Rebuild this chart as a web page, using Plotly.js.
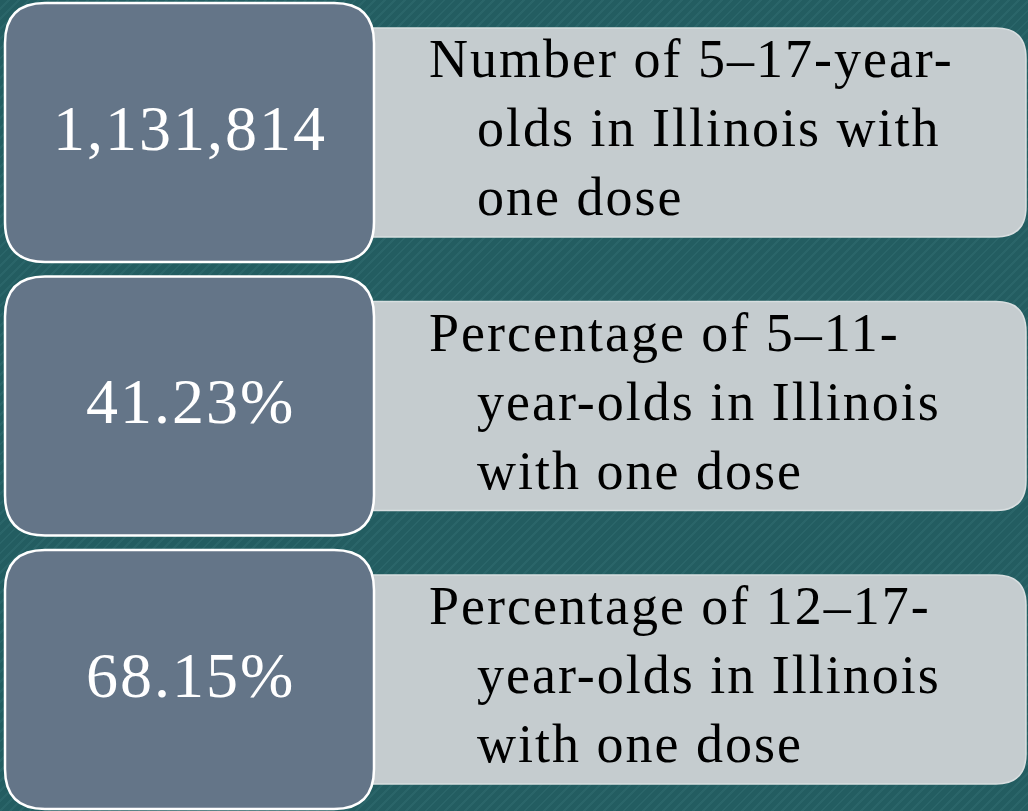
<!DOCTYPE html>
<html>
<head>
<meta charset="utf-8">
<script src="https://cdn.plot.ly/plotly-3.0.1.min.js"></script>
<style>
  html, body { margin: 0; padding: 0; }
  body {
    width: 1028px; height: 811px; overflow: hidden;
    background: repeating-linear-gradient(-45deg, #235d61 0px, #235d61 5px, #2a6569 5px, #2a6569 7px);
  }
  #chart { width: 1028px; height: 811px; }
  .annotation-text { letter-spacing: 2px; }
</style>
</head>
<body>
<div id="chart"></div>
<script>
// ---- data ----
const values = ["1,131,814", "41.23%", "68.15%"];
const labelFirstLines = ["Number of 5\u201317-year-", "Percentage of 5\u201311-", "Percentage of 12\u201317-"];
const labelSecondLines = ["olds in Illinois with", "year-olds in Illinois", "year-olds in Illinois"];
const labelThirdLines = ["one dose", "with one dose", "with one dose"];

// ---- layout helpers ----
const W = 1028, H = 811;
const step = 273.5;

function roundRect(x0, y0, x1, y1, rl, rr) {
  return `M ${x0 + rl},${y0} L ${x1 - rr},${y0} Q ${x1},${y0} ${x1},${y0 + rr} ` +
         `L ${x1},${y1 - rr} Q ${x1},${y1} ${x1 - rr},${y1} L ${x0 + rl},${y1} ` +
         `Q ${x0},${y1} ${x0},${y1 - rl} L ${x0},${y0 + rl} Q ${x0},${y0} ${x0 + rl},${y0} Z`;
}

const shapes = [];
const annotations = [];
const serif = "Liberation Serif, Times New Roman, serif";

values.forEach((v, i) => {
  const off = i * step;
  // light label box (behind)
  shapes.push({
    type: "path", xref: "x", yref: "y", layer: "above",
    path: roundRect(340, 28 + off, 1026, 237 + off, 0, 30),
    fillcolor: "#c5cccf", line: { color: "#d8dee0", width: 1.5 }
  });
  // dark value box
  shapes.push({
    type: "path", xref: "x", yref: "y", layer: "above",
    path: roundRect(5, 3 + off, 374, 262 + off, 40, 40),
    fillcolor: "#647588", line: { color: "#ffffff", width: 2.5 }
  });
  annotations.push({
    x: 190, y: 128 + off, xref: "x", yref: "y", xanchor: "center", yanchor: "middle",
    text: v, showarrow: false,
    font: { family: serif, size: 64, color: "#ffffff" }
  });
  const lines = [labelFirstLines[i], labelSecondLines[i], labelThirdLines[i]];
  const xs = [427, 475, 475];
  lines.forEach((t, k) => {
    annotations.push({
      x: xs[k], y: 59 + off + k * 69, xref: "x", yref: "y", xanchor: "left", yanchor: "middle",
      text: t, showarrow: false,
      font: { family: serif, size: 54, color: "#000000" }
    });
  });
});

const layout = {
  width: W, height: H,
  margin: { l: 0, r: 0, t: 0, b: 0 },
  paper_bgcolor: "rgba(0,0,0,0)",
  plot_bgcolor: "rgba(0,0,0,0)",
  showlegend: false,
  xaxis: { range: [0, W], visible: false, fixedrange: true },
  yaxis: { range: [H, 0], visible: false, fixedrange: true },
  shapes: shapes,
  annotations: annotations
};

Plotly.newPlot("chart", [{ x: [], y: [], type: "scatter", hoverinfo: "skip" }], layout,
  { staticPlot: true, displayModeBar: false });
</script>
</body>
</html>
